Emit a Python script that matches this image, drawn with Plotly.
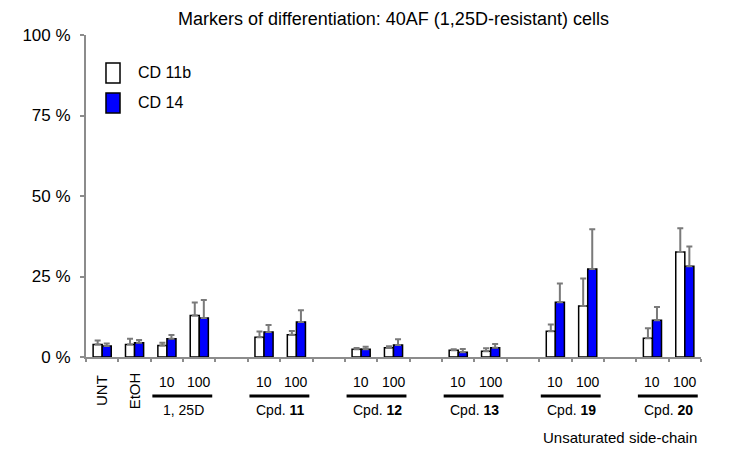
import plotly.graph_objects as go

# Conditions: two controls, then six treatments at 10 and 100 nM
controls = ["UNT", "EtOH"]
compounds = ["1, 25D", "Cpd. <b>11</b>", "Cpd. <b>12</b>", "Cpd. <b>13</b>",
             "Cpd. <b>19</b>", "Cpd. <b>20</b>"]
doses = ["10", "100"]
series_names = ["CD 11b", "CD 14"]

# % positive cells (bar order: UNT, EtOH, then each compound at 10 / 100)
cd11b = [3.9, 3.9, 3.6, 12.9, 6.1, 6.9, 2.4, 2.9, 2.1, 1.8, 8.0, 15.8, 5.8, 32.6]
cd11b_err = [1.2, 1.8, 0.8, 4.0, 1.8, 1.2, 0.4, 0.4, 0.3, 0.9, 2.1, 8.6, 3.1, 7.4]
cd14 = [3.4, 4.4, 5.7, 12.1, 7.8, 10.9, 2.4, 3.7, 1.5, 2.9, 17.0, 27.3, 11.4, 28.2]
cd14_err = [0.8, 0.9, 1.1, 5.6, 2.1, 3.6, 0.8, 1.8, 1.0, 1.1, 5.8, 12.4, 4.1, 6.1]

y_ticks = [0, 25, 50, 75, 100]

# slot index of every bar pair: controls side by side, one empty slot between compounds
x_pos = list(range(len(controls)))
for i, _ in enumerate(compounds):
    start = len(controls) + 3 * i
    x_pos += [start + j for j in range(len(doses))]
n_slots = x_pos[-1] + 1

FONT = "Liberation Sans, Arial, sans-serif"
AXIS = "#8c8c8c"
ERR = "#7a7a7a"
fills = ["white", "#0000ff"]


def txt(size):
    return dict(size=size, color="black", family=FONT)


fig = go.Figure()
for name, vals, errs, fill in zip(series_names, [cd11b, cd14], [cd11b_err, cd14_err], fills):
    fig.add_trace(go.Bar(
        name=name, x=x_pos, y=vals, showlegend=False,
        marker=dict(color=fill, line=dict(color="black", width=1.5)),
        error_y=dict(type="data", array=errs, arrayminus=[0] * len(vals),
                     symmetric=False, color=ERR, thickness=2, width=3),
    ))

# legend drawn by hand: tall boxes like the original
for k, (name, fill) in enumerate(zip(series_names, fills)):
    y_top = 0.913 - k * 0.093
    fig.add_shape(type="rect", xref="paper", yref="paper",
                  x0=0.0325, x1=0.0553, y0=y_top - 0.062, y1=y_top,
                  fillcolor=fill, line=dict(color="black", width=1.5))
    fig.add_annotation(x=0.0813, y=y_top - 0.031, xref="paper", yref="paper",
                       text=name, showarrow=False, xanchor="left", yanchor="middle",
                       font=txt(16))

# labels under the axis
for x, name in zip(x_pos[:len(controls)], controls):
    fig.add_annotation(x=x, y=-0.105, xref="x", yref="paper", text=name,
                       textangle=-90, showarrow=False, yanchor="middle",
                       font=txt(15))
for i, name in enumerate(compounds):
    xs = x_pos[len(controls) + 2 * i: len(controls) + 2 * i + 2]
    for x, d in zip(xs, doses):
        fig.add_annotation(x=x, y=-0.079, xref="x", yref="paper", text=d,
                           showarrow=False, yanchor="middle", font=txt(14))
    fig.add_shape(type="line", xref="x", yref="paper",
                  x0=xs[0] - 0.45, x1=xs[1] + 0.4, y0=-0.1215, y1=-0.1215,
                  line=dict(color="black", width=3))
    fig.add_annotation(x=(xs[0] + xs[1]) / 2, y=-0.166, xref="x", yref="paper",
                       text=name, showarrow=False, yanchor="middle", font=txt(14))

fig.add_annotation(x=0.997, y=-0.249, xref="paper", yref="paper",
                   text="Unsaturated side-chain", showarrow=False,
                   xanchor="right", yanchor="middle", font=txt(15))

fig.update_xaxes(
    range=[-0.5, n_slots - 0.5],
    tickvals=[k - 0.5 for k in range(n_slots + 1)], showticklabels=False,
    ticks="outside", ticklen=3, tickcolor=AXIS, tickwidth=1.5,
    showline=True, linecolor=AXIS, linewidth=2, showgrid=False, zeroline=False,
)
fig.update_yaxes(
    range=[0, 100], tickvals=y_ticks, ticktext=[f"{v} %" for v in y_ticks],
    ticks="outside", ticklen=4, tickcolor=AXIS, tickwidth=1.5,
    showline=True, linecolor=AXIS, linewidth=2, showgrid=False, zeroline=False,
    tickfont=txt(17), ticklabelstandoff=6,
)

# page body adds an 8px offset, so the figure is sized and placed to compensate
fig.update_layout(
    width=742, height=445,
    title=dict(text="Markers of differentiation: 40AF (1,25D-resistant) cells",
               x=0.5, xref="paper", y=0.99, yanchor="top", font=txt(18)),
    barmode="group", bargap=0.44, bargroupgap=0,
    plot_bgcolor="white", paper_bgcolor="white",
    margin=dict(l=78, r=49, t=27, b=96),
    showlegend=False,
    font=dict(family=FONT),
)

fig.write_html("out.html")
